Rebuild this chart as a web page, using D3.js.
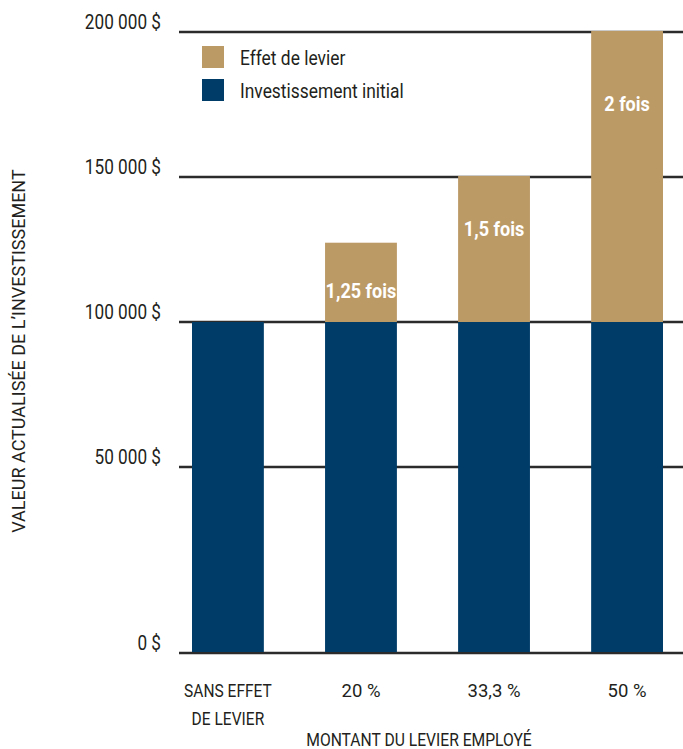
<!DOCTYPE html>
<html>
<head>
<meta charset="utf-8">
<script src="https://cdn.jsdelivr.net/npm/d3@7"></script>
<style>
  body { margin: 0; background: #fff; }
  svg { display: block; }
  text { font-family: Roboto, "Liberation Sans", sans-serif; fill: #231f20; }
</style>
</head>
<body>
<div id="chart"></div>
<script>
// chart values
const categories = [["SANS EFFET", "DE LEVIER"], ["20 %"], ["33,3 %"], ["50 %"]];
const initialValues = [100000, 100000, 100000, 100000];
const leverValues = [0, 27000, 50000, 100000];
const barLabels = ["", "1,25 fois", "1,5 fois", "2 fois"];
const yTicks = [0, 50000, 100000, 150000, 200000];
const legendItems = ["Effet de levier", "Investissement initial"];

const width = 683, height = 749;
const colors = { lever: "#bc9a66", initial: "#003c68" };
const squeeze = 0.86; // the original uses a condensed face

const svg = d3.select("#chart").append("svg")
    .attr("width", width)
    .attr("height", height);

const x = d3.scaleBand()
    .domain(d3.range(categories.length))
    .range([192, 663])
    .paddingInner(0.46)
    .paddingOuter(0);

// bottom band is drawn taller than the others in the original
const y = d3.scaleLinear()
    .domain([0, 50000, 200000])
    .range([653, 467, 32]);

const fmt = d3.formatLocale({decimal: ",", thousands: " ", grouping: [3], currency: ["", " $"]}).format("$,.0f");

// text placed at (px,py), narrowed horizontally
function put(sel, px, py, k = squeeze) {
    return sel.attr("transform", `translate(${px},${py}) scale(${k},1)`);
}

// gridlines
svg.append("g")
    .selectAll("line")
    .data(yTicks)
    .join("line")
        .attr("x1", 179)
        .attr("x2", width)
        .attr("y1", d => y(d))
        .attr("y2", d => y(d))
        .attr("stroke", "#2b2b2b")
        .attr("stroke-width", 2.5);

svg.append("g")
    .style("font-size", "20px")
    .selectAll("text")
    .data(yTicks)
    .join("text")
        .attr("transform", d => `translate(161,${y(d) - 3.5}) scale(${squeeze},1)`)
        .attr("text-anchor", "end")
        .text(d => fmt(d));

// bars
const bars = svg.append("g");
bars.selectAll("rect.initial")
    .data(initialValues)
    .join("rect")
        .attr("class", "initial")
        .attr("x", (d, i) => x(i))
        .attr("width", x.bandwidth())
        .attr("y", d => y(d))
        .attr("height", d => y(0) - y(d) - 1)
        .attr("fill", colors.initial);

bars.selectAll("rect.lever")
    .data(leverValues)
    .join("rect")
        .attr("class", "lever")
        .attr("x", (d, i) => x(i))
        .attr("width", x.bandwidth())
        .attr("y", (d, i) => y(initialValues[i] + d) - 1)
        .attr("height", (d, i) => d ? y(initialValues[i]) - y(initialValues[i] + d) + 1 : 0)
        .attr("fill", colors.lever);

// labels inside the leverage part, offset from its top
const labelDy = [0, 54, 59, 79];
svg.append("g")
    .style("font-size", "21px")
    .style("font-weight", "bold")
    .selectAll("text")
    .data(barLabels)
    .join("text")
        .attr("transform", (d, i) => `translate(${x(i) + x.bandwidth() / 2},${y(initialValues[i] + leverValues[i]) + labelDy[i]}) scale(${squeeze},1)`)
        .attr("text-anchor", "middle")
        .style("fill", "#fff")
        .text(d => d);

// x tick labels (digits are wider in the original face than its capitals)
const xl = svg.append("g").style("font-size", "18.5px");
categories.forEach((lines, i) => {
    lines.forEach((l, k) => {
        put(xl.append("text"), x(i) + x.bandwidth() / 2, 697 + k * 28, /\d/.test(l) ? 1 : 0.84)
            .attr("text-anchor", "middle")
            .text(l);
    });
});

// axis titles
put(svg.append("text"), 419, 746, 0.87)
    .attr("text-anchor", "middle")
    .style("font-size", "18px")
    .text("MONTANT DU LEVIER EMPLOYÉ");

svg.append("text")
    .attr("transform", "translate(25,351) rotate(-90)")
    .attr("text-anchor", "middle")
    .style("font-size", "18px")
    .text("VALEUR ACTUALISÉE DE L’INVESTISSEMENT");

// legend
const legend = svg.append("g")
    .selectAll("g")
    .data(legendItems)
    .join("g")
        .attr("transform", (d, i) => `translate(202,${46 + i * 33})`);

legend.append("rect")
    .attr("width", 22)
    .attr("height", 22)
    .attr("fill", (d, i) => i ? colors.initial : colors.lever);

legend.append("text")
    .attr("transform", "translate(38,18.5) scale(0.87,1)")
    .style("font-size", "20px")
    .text(d => d);
</script>
</body>
</html>
